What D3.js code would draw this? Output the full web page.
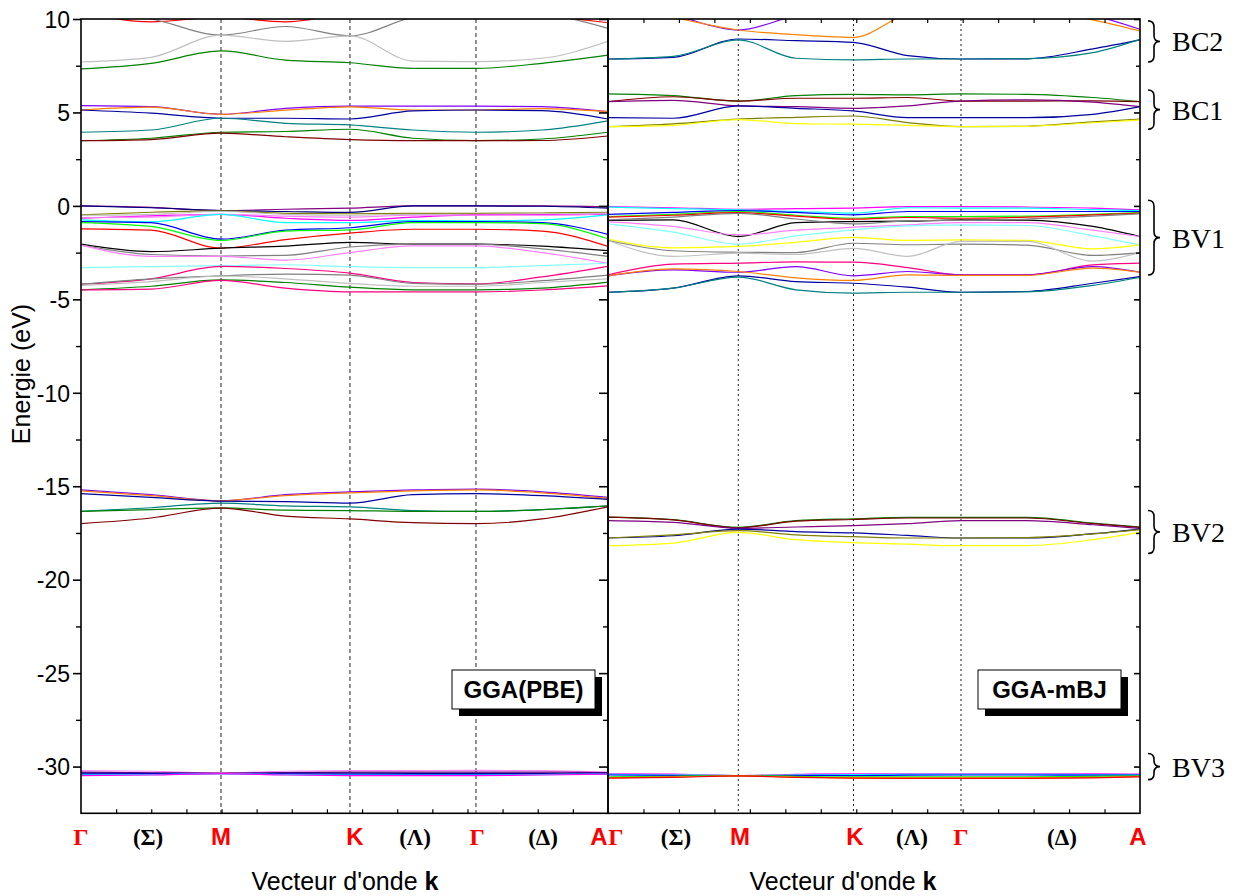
<!DOCTYPE html>
<html><head><meta charset="utf-8">
<script src="https://cdn.jsdelivr.net/npm/d3@7"></script>
<style>body{margin:0;background:#fff} svg{display:block}</style>
</head><body>
<svg id="c" width="1237" height="896"></svg>
<script>
// ---------------- DATA ----------------
// k-path coordinates (arbitrary path units) of the sampled points
const kPBE = [0, 0.5, 1.0, 1.46, 1.921, 2.371, 2.821, 3.293, 3.764];
const kMBJ = [0, 0.5, 1.0, 1.443, 1.884, 2.30, 2.709, 3.215, 3.722, 4.083];
// high-symmetry points (vertical lines)
const hsPBE = [1.0, 1.921, 2.821];
const hsMBJ = [1.0, 1.884, 2.709];
// x labels
const xLabelsPBE = ["Γ", "(Σ)", "M", "K", "(Λ)", "Γ", "(Δ)", "A"];
const xLabelPosPBE = [0, 0.479, 1.0, 1.957, 2.386, 2.829, 3.3, 3.70];
const xLabelsMBJ = ["Γ", "(Σ)", "M", "K", "(Λ)", "Γ", "(Δ)", "A"];
const xLabelPosMBJ = [0.06, 0.522, 1.013, 1.896, 2.333, 2.709, 3.484, 4.068];
// y ticks
const yMajor = [10, 5, 0, -5, -10, -15, -20, -25, -30];
const yMinor = [7.5, 2.5, -2.5, -7.5, -12.5, -17.5, -22.5, -27.5];

// GGA(PBE) band energies (eV) at kPBE
const pbeBands = [
  [10.4, 9.85, 10.1, 9.85, 10.3, 10.5, 10.5, 10.2, 9.8],
  [10.4, 10.0, 9.14, 9.6, 9.1, 10.1, 10.5, 10.3, 9.5],
  [7.7, 7.95, 9.14, 8.8, 9.1, 7.75, 7.72, 7.9, 8.8],
  [7.33, 7.63, 8.29, 7.8, 7.66, 7.36, 7.36, 7.63, 8.07],
  [5.36, 5.31, 4.9, 5.22, 5.34, 5.34, 5.34, 5.31, 5.04],
  [5.13, 5.28, 4.9, 5.12, 5.3, 5.13, 5.13, 5.2, 5.04],
  [5.13, 4.96, 4.69, 4.69, 4.65, 5.08, 5.13, 5.1, 4.65],
  [3.94, 4.06, 4.69, 4.42, 4.33, 4.06, 3.94, 4.06, 4.55],
  [3.49, 3.62, 3.94, 3.98, 4.1, 3.62, 3.49, 3.58, 3.94],
  [3.49, 3.55, 3.89, 3.7, 3.55, 3.49, 3.49, 3.5, 3.74],
  [0, -0.08, -0.25, -0.18, -0.12, 0, 0, 0, -0.05],
  [0, -0.1, -0.25, -0.3, -0.35, 0, 0, -0.02, -0.12],
  [-0.48, -0.34, -0.27, -0.4, -0.42, -0.4, -0.4, -0.38, -0.34],
  [-0.5, -0.45, -0.3, -0.45, -0.5, -0.45, -0.45, -0.42, -0.4],
  [-0.66, -0.53, -0.45, -0.66, -0.78, -0.6, -0.48, -0.47, -0.45],
  [-0.62, -0.6, -0.45, -0.55, -0.6, -0.5, -0.5, -0.5, -0.42],
  [-0.75, -0.85, -0.45, -0.9, -0.9, -0.78, -0.8, -0.75, -0.48],
  [-0.84, -0.9, -1.78, -1.3, -1.17, -0.84, -0.84, -0.9, -1.52],
  [-0.89, -1.1, -1.85, -1.35, -1.28, -0.9, -0.89, -0.95, -1.76],
  [-1.23, -1.3, -2.26, -1.8, -1.46, -1.25, -1.25, -1.35, -2.17],
  [-2.05, -2.45, -2.26, -2.15, -1.95, -2.05, -2.05, -2.15, -2.39],
  [-2.1, -2.6, -2.68, -2.65, -2.2, -2.05, -2.05, -2.3, -2.7],
  [-2.1, -2.7, -2.7, -2.9, -2.5, -2.14, -2.14, -2.5, -3.07],
  [-3.3, -3.25, -3.2, -3.15, -3.25, -3.3, -3.3, -3.2, -3.07],
  [-4.19, -3.9, -3.24, -3.35, -3.6, -4.1, -4.17, -3.8, -3.24],
  [-4.19, -3.9, -3.74, -3.65, -3.7, -4.15, -4.2, -4.0, -3.7],
  [-4.25, -4.05, -3.75, -3.9, -4.15, -4.3, -4.3, -4.1, -3.9],
  [-4.49, -4.3, -3.96, -4.1, -4.35, -4.49, -4.49, -4.4, -4.08],
  [-4.49, -4.45, -3.99, -4.4, -4.6, -4.6, -4.6, -4.5, -4.28],
  [-15.19, -15.45, -15.78, -15.45, -15.3, -15.2, -15.15, -15.3, -15.6],
  [-15.25, -15.5, -15.78, -15.5, -15.35, -15.25, -15.2, -15.35, -15.65],
  [-15.4, -15.6, -15.8, -15.82, -15.9, -15.45, -15.4, -15.5, -15.7],
  [-16.35, -16.15, -15.9, -16.05, -16.1, -16.3, -16.35, -16.25, -16.05],
  [-16.35, -16.25, -16.16, -16.28, -16.3, -16.35, -16.35, -16.25, -16.05],
  [-17.0, -16.7, -16.17, -16.6, -16.75, -16.95, -17.0, -16.75, -16.1],
  [-30.22, -30.25, -30.35, -30.25, -30.22, -30.22, -30.2, -30.22, -30.3],
  [-30.3, -30.33, -30.35, -30.32, -30.3, -30.3, -30.3, -30.3, -30.32],
  [-30.35, -30.36, -30.37, -30.35, -30.35, -30.36, -30.36, -30.36, -30.35],
  [-30.4, -30.4, -30.38, -30.4, -30.42, -30.42, -30.42, -30.42, -30.38],
  [-30.45, -30.43, -30.38, -30.43, -30.45, -30.45, -30.45, -30.43, -30.4],
  [-30.48, -30.45, -30.38, -30.45, -30.48, -30.48, -30.48, -30.45, -30.4]
];
const pbeColors = ["#ff0000","#808080","#c0c0c0","#008000","#8000ff","#ff8000","#0000a0","#008080","#008000","#800000",
  "#800080","#000080","#808000","#c0c0c0","#ff00ff","#ff80ff","#00ffff","#0000ff","#00ff00","#ff0000",
  "#000000","#808080","#ff80ff","#80ffff","#ff0080","#808080","#c0c0c0","#008000","#ff0080",
  "#8000ff","#ff8000","#0000a0","#008080","#008000","#800000",
  "#ff80ff","#800080","#000080","#0000ff","#00ffff","#ff00ff"];

// GGA-mBJ band energies (eV) at kMBJ
const mbjBands = [
  [10.8, 10.2, 9.41, 10.2, 10.8, 11, 11, 10.8, 10.2, 9.45],
  [11, 10.1, 9.41, 9.16, 9.02, 10.3, 10.8, 10.6, 9.95, 9.36],
  [7.86, 7.95, 8.93, 8.84, 8.75, 8.04, 7.86, 7.87, 8.4, 8.88],
  [7.86, 8.0, 8.88, 7.9, 7.81, 7.86, 7.86, 7.88, 8.2, 8.91],
  [5.99, 5.9, 5.61, 5.9, 5.97, 5.94, 5.99, 5.97, 5.8, 5.58],
  [5.58, 5.84, 5.61, 5.76, 5.76, 5.8, 5.61, 5.61, 5.62, 5.58],
  [5.58, 5.65, 5.35, 5.31, 5.22, 5.35, 5.61, 5.67, 5.55, 5.31],
  [4.72, 4.69, 5.35, 5.22, 5.08, 4.72, 4.72, 4.72, 4.9, 5.31],
  [4.24, 4.39, 4.64, 4.74, 4.81, 4.46, 4.24, 4.26, 4.5, 4.64],
  [4.24, 4.31, 4.62, 4.4, 4.37, 4.31, 4.24, 4.26, 4.45, 4.6],
  [-0.04, -0.1, -0.18, -0.15, -0.12, -0.04, -0.04, -0.06, -0.12, -0.21],
  [-0.07, -0.15, -0.21, -0.3, -0.39, -0.1, -0.12, -0.12, -0.2, -0.25],
  [-0.45, -0.35, -0.25, -0.35, -0.48, -0.3, -0.3, -0.3, -0.3, -0.3],
  [-0.57, -0.45, -0.3, -0.5, -0.66, -0.57, -0.57, -0.55, -0.45, -0.36],
  [-0.6, -0.5, -0.36, -0.55, -0.71, -0.62, -0.66, -0.6, -0.48, -0.39],
  [-0.78, -0.75, -1.64, -0.9, -0.84, -0.82, -0.75, -0.76, -1.1, -1.64],
  [-0.75, -0.6, -0.4, -0.7, -0.96, -0.8, -0.78, -0.7, -0.55, -0.42],
  [-0.84, -1.1, -1.55, -1.3, -1.14, -1.02, -0.89, -0.9, -1.3, -1.64],
  [-0.96, -1.4, -2.05, -1.6, -1.28, -1.07, -1.02, -1.05, -1.6, -2.09],
  [-1.78, -2.25, -2.17, -1.95, -1.68, -1.85, -1.82, -1.85, -2.3, -2.09],
  [-1.85, -2.4, -2.48, -2.5, -2.0, -2.08, -2.05, -2.1, -2.65, -2.5],
  [-1.85, -2.7, -2.53, -2.6, -2.27, -2.7, -1.9, -1.9, -2.95, -2.5],
  [-3.69, -3.12, -3.06, -3.0, -3.01, -3.3, -3.69, -3.69, -3.16, -3.06],
  [-3.74, -3.42, -3.55, -3.25, -3.74, -3.51, -3.69, -3.69, -3.25, -3.55],
  [-3.74, -3.37, -3.51, -3.85, -3.99, -3.69, -3.72, -3.72, -3.33, -3.55],
  [-4.62, -4.4, -3.74, -4.05, -4.14, -4.35, -4.62, -4.58, -4.14, -3.78],
  [-4.62, -4.4, -3.81, -4.49, -4.67, -4.62, -4.62, -4.6, -4.25, -3.83],
  [-16.65, -16.79, -17.2, -16.84, -16.74, -16.67, -16.67, -16.67, -16.97, -17.19],
  [-16.65, -16.8, -17.22, -16.87, -16.78, -16.7, -16.7, -16.7, -17.0, -17.2],
  [-16.84, -16.93, -17.25, -17.18, -17.11, -17.0, -16.84, -16.84, -17.06, -17.26],
  [-17.77, -17.65, -17.29, -17.43, -17.5, -17.63, -17.77, -17.77, -17.54, -17.29],
  [-17.77, -17.6, -17.38, -17.6, -17.7, -17.77, -17.77, -17.75, -17.55, -17.32],
  [-18.18, -18.04, -17.47, -17.86, -18.02, -18.1, -18.18, -18.18, -17.86, -17.47],
  [-30.37, -30.4, -30.48, -30.42, -30.38, -30.38, -30.37, -30.37, -30.38, -30.4],
  [-30.4, -30.42, -30.48, -30.43, -30.4, -30.4, -30.4, -30.4, -30.4, -30.42],
  [-30.42, -30.45, -30.48, -30.45, -30.43, -30.42, -30.42, -30.42, -30.43, -30.45],
  [-30.45, -30.47, -30.48, -30.47, -30.48, -30.46, -30.45, -30.45, -30.46, -30.46],
  [-30.55, -30.52, -30.48, -30.52, -30.55, -30.55, -30.55, -30.55, -30.52, -30.5],
  [-30.6, -30.55, -30.5, -30.56, -30.6, -30.6, -30.6, -30.6, -30.58, -30.52],
  [-30.62, -30.58, -30.5, -30.58, -30.62, -30.63, -30.63, -30.63, -30.6, -30.55]
];
const mbjColors = ["#8000ff","#ff8000","#0000a0","#008080","#008000","#800000","#800080","#0000a0","#808000","#ffff00",
  "#ff00ff","#00ffff","#0000ff","#00ff00","#ff0000","#000000","#808080","#ff80ff","#80ffff","#ffff00","#808080","#c0c0c0",
  "#ff0080","#8000ff","#ff8000","#0000a0","#008080",
  "#008000","#800000","#800080","#0000a0","#808000","#ffff00",
  "#ff00ff","#ff80ff","#00ffff","#0000ff","#00ff00","#ff8000","#ff0000"];

// group labels (braces) on the right
const groupLabels = ["BC2", "BC1", "BV1", "BV2", "BV3"];
const groupTop = [9.9, 6.2, 0.3, -16.3, -29.3];
const groupBottom = [7.7, 4.1, -3.7, -18.6, -30.7];
const panelNames = ["GGA(PBE)", "GGA-mBJ"];

// ---------------- DRAWING ----------------
const svg = d3.select("#c");
const y = d3.scaleLinear().domain([-32.5, 10]).range([813.3, 19]);
const xL = d3.scaleLinear().domain([0, 3.764]).range([81, 608]);
const xR = d3.scaleLinear().domain([0, 4.083]).range([608, 1140]);
const SANS = "'Liberation Sans', Arial, Helvetica, sans-serif";
const SERIF = "'Liberation Serif', 'Times New Roman', serif";

const defs = svg.append("defs");
[["clipL", xL], ["clipR", xR]].forEach(([id, x]) => {
  defs.append("clipPath").attr("id", id).append("rect")
    .attr("x", x.range()[0]).attr("y", y(10))
    .attr("width", x.range()[1] - x.range()[0]).attr("height", y(-32.5) - y(10));
});

function drawPanel(x, k, bands, colors, hs, clip, dash) {
  const g = svg.append("g").attr("clip-path", `url(#${clip})`);
  g.selectAll("line.hs").data(hs).enter().append("line")
    .attr("x1", d => x(d)).attr("x2", d => x(d))
    .attr("y1", y(10)).attr("y2", y(-32.5))
    .attr("stroke", "#222").attr("stroke-width", 1).attr("stroke-dasharray", dash);
  const line = d3.line().x((d, i) => x(k[i])).y(d => y(d)).curve(d3.curveMonotoneX);
  g.selectAll("path.band").data(bands).enter().append("path")
    .attr("d", line).attr("fill", "none")
    .attr("stroke", (d, i) => colors[i % colors.length]).attr("stroke-width", 1.2);
}
drawPanel(xL, kPBE, pbeBands, pbeColors, hsPBE, "clipL", "4,3");
drawPanel(xR, kMBJ, mbjBands, mbjColors, hsMBJ, "clipR", "2,3");

// frames
[xL, xR].forEach(x => {
  svg.append("rect").attr("x", x.range()[0]).attr("y", y(10))
    .attr("width", x.range()[1] - x.range()[0]).attr("height", y(-32.5) - y(10))
    .attr("fill", "none").attr("stroke", "#000").attr("stroke-width", 1.6);
});

// y axes
function yAxis(xpos, major, minor, labels) {
  const a = svg.append("g").attr("transform", `translate(${xpos},0)`)
    .call(d3.axisLeft(y).tickValues(yMajor).tickSize(major).tickPadding(3)
      .tickFormat(labels ? (d => String(d)) : ""));
  a.select(".domain").remove();
  a.selectAll("line").attr("stroke-width", 1.6);
  a.selectAll("text").attr("font-family", SANS).attr("font-size", 23).attr("fill", "#000")
    .attr("dy", "0.36em");
  const b = svg.append("g").attr("transform", `translate(${xpos},0)`)
    .call(d3.axisLeft(y).tickValues(yMinor).tickSize(minor).tickFormat(""));
  b.select(".domain").remove();
  b.selectAll("line").attr("stroke-width", 1.4);
}
yAxis(81, 8, 5, true);
yAxis(608, 9, 5, false);
yAxis(1140, 6, 4, false);

// x minor ticks (bottom both panels, top right panel)
function xTicks(x, ypos, dir) {
  const d = x.domain()[1];
  const vals = d3.range(1, 15).map(i => i * d / 15);
  const ax = (dir > 0 ? d3.axisTop(x) : d3.axisBottom(x)).tickValues(vals).tickSize(4).tickFormat("");
  const a = svg.append("g").attr("transform", `translate(0,${ypos})`).call(ax);
  a.select(".domain").remove();
  a.selectAll("line").attr("stroke-width", 1.2);
}
xTicks(xL, y(-32.5), 1);
xTicks(xR, y(-32.5), 1);
xTicks(xR, y(10), -1);

// x labels
function xLabels(x, labels, pos) {
  labels.forEach((t, i) => {
    const isGreekPt = t === "Γ";
    const isParen = t.startsWith("(");
    svg.append("text").attr("x", x(pos[i])).attr("y", 845)
      .attr("text-anchor", "middle")
      .attr("font-family", (isGreekPt || isParen) ? SERIF : SANS)
      .attr("font-weight", "bold").attr("font-size", isParen ? 23 : 24)
      .attr("fill", isParen ? "#000" : "#ff0000").text(t);
  });
}
xLabels(xL, xLabelsPBE, xLabelPosPBE);
xLabels(xR, xLabelsMBJ, xLabelPosMBJ);

// axis titles
[345, 843].forEach(cx => {
  const t = svg.append("text").attr("x", cx).attr("y", 890).attr("text-anchor", "middle")
    .attr("font-family", SANS).attr("font-size", 25).attr("fill", "#000");
  t.append("tspan").text("Vecteur d'onde ");
  t.append("tspan").attr("font-weight", "bold").text("k");
});
svg.append("text").attr("transform", "translate(30,374) rotate(-90)")
  .attr("text-anchor", "middle").attr("font-family", SANS).attr("font-size", 25)
  .text("Energie (eV)");

// panel name boxes
[452, 978].forEach((bx, i) => {
  const g = svg.append("g");
  g.append("rect").attr("x", bx + 7).attr("y", 677).attr("width", 143).attr("height", 39).attr("fill", "#000");
  g.append("rect").attr("x", bx).attr("y", 670).attr("width", 143).attr("height", 39)
    .attr("fill", "#fff").attr("stroke", "#000").attr("stroke-width", 1);
  g.append("text").attr("x", bx + 71.5).attr("y", 698).attr("text-anchor", "middle")
    .attr("font-family", SANS).attr("font-weight", "bold").attr("font-size", 24).text(panelNames[i]);
});

// braces with group labels
groupLabels.forEach((lab, i) => {
  const y1 = y(groupTop[i]), y2 = y(groupBottom[i]);
  const x0 = 1148, w = 12, m = (y1 + y2) / 2, r = Math.min(6, (y2 - y1) / 4);
  const p = `M${x0},${y1} Q${x0 + w / 2},${y1} ${x0 + w / 2},${y1 + r} L${x0 + w / 2},${m - r} Q${x0 + w / 2},${m} ${x0 + w},${m} Q${x0 + w / 2},${m} ${x0 + w / 2},${m + r} L${x0 + w / 2},${y2 - r} Q${x0 + w / 2},${y2} ${x0},${y2}`;
  svg.append("path").attr("d", p).attr("fill", "none").attr("stroke", "#000").attr("stroke-width", 1.6);
  svg.append("text").attr("x", 1172).attr("y", m + 10).attr("font-family", SERIF)
    .attr("font-size", 28).attr("fill", "#000").text(lab);
});
</script>
</body></html>
